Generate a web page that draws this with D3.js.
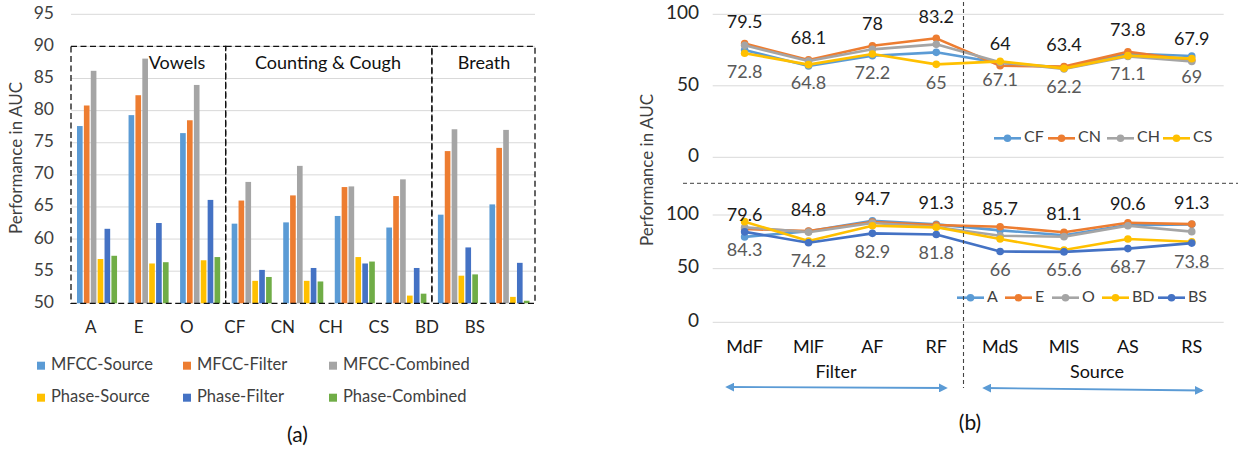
<!DOCTYPE html>
<html>
<head>
<meta charset="utf-8">
<script src="https://cdn.jsdelivr.net/npm/d3@7"></script>
<style>
  body { margin: 0; background: #fff; }
  svg { display: block; font-family: Lato, "Open Sans", sans-serif; }
</style>
</head>
<body>
<div id="app"></div>
<script>
// ---- chart (a) data ----
var catsA = ["A", "E", "O", "CF", "CN", "CH", "CS", "BD", "BS"];
var seriesA = ["MFCC-Source", "MFCC-Filter", "MFCC-Combined", "Phase-Source", "Phase-Filter", "Phase-Combined"];
var mfccSource = [77.6, 79.3, 76.5, 62.4, 62.6, 63.6, 61.8, 63.8, 65.4];
var mfccFilter = [80.8, 82.4, 78.5, 66.0, 66.8, 68.1, 66.7, 73.7, 74.2];
var mfccCombined = [86.2, 88.1, 84.0, 68.9, 71.4, 68.2, 69.3, 77.1, 77.0];
var phaseSource = [56.9, 56.2, 56.7, 53.5, 53.5, 57.2, 51.2, 54.3, 51.0];
var phaseFilter = [61.6, 62.5, 66.1, 55.2, 55.5, 56.2, 55.5, 58.7, 56.3];
var phaseCombined = [57.4, 56.4, 57.2, 54.1, 53.4, 56.5, 51.5, 54.5, 50.4];
var ticksA = [50, 55, 60, 65, 70, 75, 80, 85, 90, 95];
var groupsA = [
  { name: "Vowels", from: "A", to: "O" },
  { name: "Counting & Cough", from: "CF", to: "CS" },
  { name: "Breath", from: "BD", to: "BS" }
];

// ---- chart (b) data ----
var catsB = ["MdF", "MlF", "AF", "RF", "MdS", "MlS", "AS", "RS"];
var topNames = ["CF", "CN", "CH", "CS"];
var topCF = [75.0, 63.8, 71.0, 73.4, 66.0, 62.8, 72.5, 70.8];
var topCN = [79.5, 68.1, 78, 83.2, 64, 63.4, 73.8, 67.9];
var topCH = [78.3, 67.3, 75.5, 79.0, 66.5, 61.8, 70.5, 67.0];
var topCS = [72.8, 64.8, 72.2, 65, 67.1, 62.2, 71.1, 69];
var botNames = ["A", "E", "O", "BD", "BS"];
var botA = [79.6, 84.8, 94.7, 91.3, 85.7, 81.1, 90.6, 91.3];
var botE = [87.0, 85.0, 93.5, 90.7, 89.1, 83.9, 92.8, 91.5];
var botO = [88.5, 84.0, 92.5, 88.8, 80.7, 79.8, 90.0, 84.5];
var botBD = [93.8, 75.8, 90.0, 88.5, 77.6, 67.4, 77.6, 75.0];
var botBS = [84.3, 74.2, 82.9, 81.8, 66, 65.6, 68.7, 73.8];
var ticksB = [0, 50, 100];

var colors = {
  "MFCC-Source": "#5B9BD5", "MFCC-Filter": "#ED7D31", "MFCC-Combined": "#A5A5A5",
  "Phase-Source": "#FFC000", "Phase-Filter": "#4472C4", "Phase-Combined": "#70AD47",
  CF: "#5B9BD5", CN: "#ED7D31", CH: "#A5A5A5", CS: "#FFC000",
  A: "#5B9BD5", E: "#ED7D31", O: "#A5A5A5", BD: "#FFC000", BS: "#4472C4"
};

var width = 1244, height = 453;
var svg = d3.select("#app").append("svg")
  .attr("width", width).attr("height", height);
svg.append("rect").attr("width", width).attr("height", height).attr("fill", "#fff");

// ================= chart (a) =================
var valsA = [mfccSource, mfccFilter, mfccCombined, phaseSource, phaseFilter, phaseCombined];

var x0 = d3.scaleBand().domain(catsA).range([71, 535]);
var x1 = d3.scaleBand().domain(seriesA).range([6, x0.bandwidth() - 5.5]).paddingInner(0.18);
var xLab = d3.scaleBand().domain(catsA).range([66.7, 499]);
var yA = d3.scaleLinear().domain([50, 95]).range([303.3, 14.3]);

var gA = svg.append("g");

// gridlines
gA.selectAll(".gridA")
  .data(ticksA.filter(d => d > 50))
  .enter().append("line")
  .attr("x1", 71).attr("x2", 535)
  .attr("y1", d => yA(d)).attr("y2", d => yA(d))
  .attr("stroke", "#d9d9d9").attr("stroke-width", 1);

// y tick labels
gA.selectAll(".tickA")
  .data(ticksA)
  .enter().append("text")
  .attr("x", 54).attr("y", d => yA(d))
  .attr("text-anchor", "end").attr("dominant-baseline", "middle")
  .attr("font-size", 17.5).attr("fill", "#404040")
  .text(d => d);

gA.append("text")
  .attr("transform", "translate(18," + 158 + ") rotate(-90)")
  .attr("text-anchor", "middle").attr("dominant-baseline", "middle")
  .attr("font-size", 17).attr("fill", "#404040")
  .text("Performance in AUC");

// bars
seriesA.forEach(function (s, i) {
  gA.selectAll(".bar" + i)
    .data(catsA)
    .enter().append("rect")
    .attr("x", d => x0(d) + x1(s))
    .attr("width", x1.bandwidth())
    .attr("y", (d, j) => yA(valsA[i][j]))
    .attr("height", (d, j) => yA(50) - yA(valsA[i][j]))
    .attr("fill", colors[s]);
});

// group boxes
groupsA.forEach(function (g, i) {
  var left = x0(g.from), right = x0(g.to) + x0.bandwidth();
  gA.append("rect")
    .attr("x", left).attr("y", yA(90))
    .attr("width", right - left).attr("height", yA(50) - yA(90))
    .attr("fill", "none").attr("stroke", "#111")
    .attr("stroke-width", 1.3).attr("stroke-dasharray", "6,3.5");
});
var boxLabelX = [177, 328, 484];
groupsA.forEach(function (g, i) {
  gA.append("text")
    .attr("x", boxLabelX[i]).attr("y", 64)
    .attr("text-anchor", "middle").attr("dominant-baseline", "middle")
    .attr("font-size", 18).attr("fill", "#111")
    .text(g.name);
});

// x labels
gA.selectAll(".xlabA")
  .data(catsA)
  .enter().append("text")
  .attr("x", d => xLab(d) + xLab.bandwidth() / 2).attr("y", 329)
  .attr("text-anchor", "middle").attr("dominant-baseline", "middle")
  .attr("font-size", 17).attr("fill", "#262626")
  .text(d => d);

// legend
var legCols = [37, 183, 329], legRows = [365.7, 397.7];
seriesA.forEach(function (s, i) {
  var lx = legCols[i % 3], ly = legRows[Math.floor(i / 3)];
  gA.append("rect").attr("x", lx).attr("y", ly - 4).attr("width", 8).attr("height", 8)
    .attr("fill", colors[s]);
  gA.append("text").attr("x", lx + 14).attr("y", ly)
    .attr("dominant-baseline", "middle").attr("font-size", 16.5).attr("fill", "#404040")
    .text(s);
});

gA.append("text").attr("x", 297.5).attr("y", 437)
  .attr("text-anchor", "middle").attr("dominant-baseline", "middle")
  .attr("font-size", 21).attr("fill", "#111").text("(a)");

// ================= chart (b) =================
var xB = d3.scaleBand().domain(catsB).range([712.7, 1223.7]);
var cx = d => xB(d) + xB.bandwidth() / 2;

var panels = [
  {
    names: topNames, vals: [topCF, topCN, topCH, topCS],
    y: d3.scaleLinear().domain([0, 100]).range([157.3, 14.3]),
    above: 1, below: 3, legendY: 138.3,
    legendX: [994, 1048, 1107, 1163]
  },
  {
    names: botNames, vals: [botA, botE, botO, botBD, botBS],
    y: d3.scaleLinear().domain([0, 100]).range([322.3, 215]),
    above: 0, below: 4, legendY: 297.7,
    legendX: [957, 1005, 1052, 1102, 1158]
  }
];

var gB = svg.append("g");
var line = d3.line();

panels.forEach(function (p) {
  var g = gB.append("g");
  g.selectAll(".grid")
    .data(ticksB).enter().append("line")
    .attr("x1", 712.7).attr("x2", 1223.7)
    .attr("y1", d => p.y(d)).attr("y2", d => p.y(d))
    .attr("stroke", "#d9d9d9");
  g.selectAll(".tick")
    .data(ticksB).enter().append("text")
    .attr("x", 699).attr("y", d => p.y(d))
    .attr("text-anchor", "end").attr("dominant-baseline", "middle")
    .attr("font-size", 19).attr("fill", "#262626")
    .text(d => d);

  p.names.forEach(function (n, i) {
    var pts = catsB.map((c, j) => [cx(c), p.y(p.vals[i][j])]);
    g.append("path").attr("d", line(pts))
      .attr("fill", "none").attr("stroke", colors[n]).attr("stroke-width", 2.6)
      .attr("stroke-linejoin", "round");
    g.selectAll(".pt" + i)
      .data(pts).enter().append("circle")
      .attr("cx", d => d[0]).attr("cy", d => d[1]).attr("r", 3.8)
      .attr("fill", colors[n]);
  });

  // data labels
  g.selectAll(".labAbove")
    .data(catsB).enter().append("text")
    .attr("x", d => cx(d)).attr("y", (d, j) => p.y(p.vals[p.above][j]) - 20)
    .attr("text-anchor", "middle").attr("dominant-baseline", "middle")
    .attr("font-size", 18).attr("fill", "#1a1a1a")
    .text((d, j) => p.vals[p.above][j]);
  g.selectAll(".labBelow")
    .data(catsB).enter().append("text")
    .attr("x", d => cx(d)).attr("y", (d, j) => p.y(p.vals[p.below][j]) + 20)
    .attr("text-anchor", "middle").attr("dominant-baseline", "middle")
    .attr("font-size", 18).attr("fill", "#595959")
    .text((d, j) => p.vals[p.below][j]);

  // legend
  p.names.forEach(function (n, i) {
    var lx = p.legendX[i];
    g.append("line").attr("x1", lx).attr("x2", lx + 27)
      .attr("y1", p.legendY).attr("y2", p.legendY)
      .attr("stroke", colors[n]).attr("stroke-width", 2.6);
    g.append("circle").attr("cx", lx + 13.5).attr("cy", p.legendY).attr("r", 3.8)
      .attr("fill", colors[n]);
    g.append("text").attr("x", lx + 30).attr("y", p.legendY)
      .attr("dominant-baseline", "middle").attr("font-size", 16).attr("fill", "#404040")
      .text(n);
  });
});

// y title (b)
gB.append("text")
  .attr("transform", "translate(649,170) rotate(-90)")
  .attr("text-anchor", "middle").attr("dominant-baseline", "middle")
  .attr("font-size", 17).attr("fill", "#404040")
  .text("Performance in AUC");

// x labels (b)
gB.selectAll(".xlabB")
  .data(catsB).enter().append("text")
  .attr("x", d => cx(d)).attr("y", 348)
  .attr("text-anchor", "middle").attr("dominant-baseline", "middle")
  .attr("font-size", 18).attr("fill", "#111")
  .text(d => d);

// separators
gB.append("line").attr("x1", 683).attr("x2", 1238).attr("y1", 183.3).attr("y2", 183.3)
  .attr("stroke", "#666").attr("stroke-width", 1.2).attr("stroke-dasharray", "4,3");
gB.append("line").attr("x1", 963.5).attr("x2", 963.5).attr("y1", 2).attr("y2", 388)
  .attr("stroke", "#444").attr("stroke-width", 1.1).attr("stroke-dasharray", "4,3");

// Filter / Source arrows
var defs = svg.append("defs");
defs.append("marker").attr("id", "arr").attr("viewBox", "0 0 10 10")
  .attr("refX", 8).attr("refY", 5).attr("markerWidth", 5).attr("markerHeight", 5)
  .attr("orient", "auto-start-reverse")
  .append("path").attr("d", "M0,0 L10,5 L0,10 z").attr("fill", "#5B9BD5");

gB.append("line").attr("x1", 727).attr("x2", 946).attr("y1", 387).attr("y2", 388)
  .attr("stroke", "#5B9BD5").attr("stroke-width", 1.8)
  .attr("marker-start", "url(#arr)").attr("marker-end", "url(#arr)");
gB.append("line").attr("x1", 984).attr("x2", 1202).attr("y1", 388).attr("y2", 390.5)
  .attr("stroke", "#5B9BD5").attr("stroke-width", 1.8)
  .attr("marker-start", "url(#arr)").attr("marker-end", "url(#arr)");

gB.append("text").attr("x", 836).attr("y", 373)
  .attr("text-anchor", "middle").attr("dominant-baseline", "middle")
  .attr("font-size", 18).attr("fill", "#111").text("Filter");
gB.append("text").attr("x", 1097).attr("y", 373)
  .attr("text-anchor", "middle").attr("dominant-baseline", "middle")
  .attr("font-size", 18).attr("fill", "#111").text("Source");

gB.append("text").attr("x", 970).attr("y", 425)
  .attr("text-anchor", "middle").attr("dominant-baseline", "middle")
  .attr("font-size", 21).attr("fill", "#111").text("(b)");
</script>
</body>
</html>
